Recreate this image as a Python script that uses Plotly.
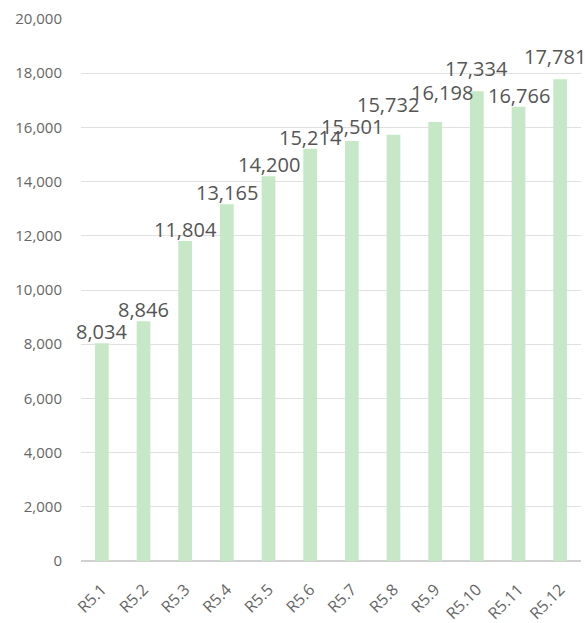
import plotly.graph_objects as go

categories = ["R5.1", "R5.2", "R5.3", "R5.4", "R5.5", "R5.6", "R5.7", "R5.8", "R5.9", "R5.10", "R5.11", "R5.12"]
values = [8034, 8846, 11804, 13165, 14200, 15214, 15501, 15732, 16198, 17334, 16766, 17781]

# label nudges (pixels) mimicking the original's label placement
label_dx = [0, 0, 0, 0, 0, 0, 0, -6, 7, 0, 0, -5]
label_dy = [0, 0, 0, 0, 0, 0, 3, 19, 18, 11, 0, 11]

fig = go.Figure(go.Bar(
    x=categories, y=values,
    marker=dict(color="#c6e8c6", line=dict(width=0)),
    cliponaxis=False,
))

for c, v, dx, dy in zip(categories, values, label_dx, label_dy):
    fig.add_annotation(
        x=c, y=v, xref="x", yref="y", text=f"{v:,}", showarrow=False,
        yanchor="bottom", xanchor="center", xshift=dx, yshift=dy - 3,
        font=dict(size=20, color="#555555", family="Open Sans"),
        borderpad=0,
    )

fig.update_layout(
    width=585, height=623,
    margin=dict(l=81, r=4, t=19, b=62, autoexpand=False),
    paper_bgcolor="white", plot_bgcolor="white",
    bargap=0.67,
    showlegend=False,
    font=dict(family="Open Sans", color="#666666"),
)
fig.update_yaxes(
    range=[0, 20000], autorange=False, dtick=2000, tickformat=",",
    showgrid=True, gridcolor="#e0e0e0", gridwidth=1,
    zeroline=True, zerolinecolor="#d0d0d0",
    tickfont=dict(size=15, color="#666666", family="Open Sans"),
    ticks="", ticklabelstandoff=18, automargin=False,
)
fig.update_xaxes(
    range=[-0.5, len(categories) - 0.5], autorange=False,
    tickangle=-45, tickfont=dict(size=16, color="#666666", family="Open Sans"),
    showline=True, linecolor="#d0d0d0", ticks="", ticklabelstandoff=12,
    automargin=False,
)

fig.write_html("out.html")
